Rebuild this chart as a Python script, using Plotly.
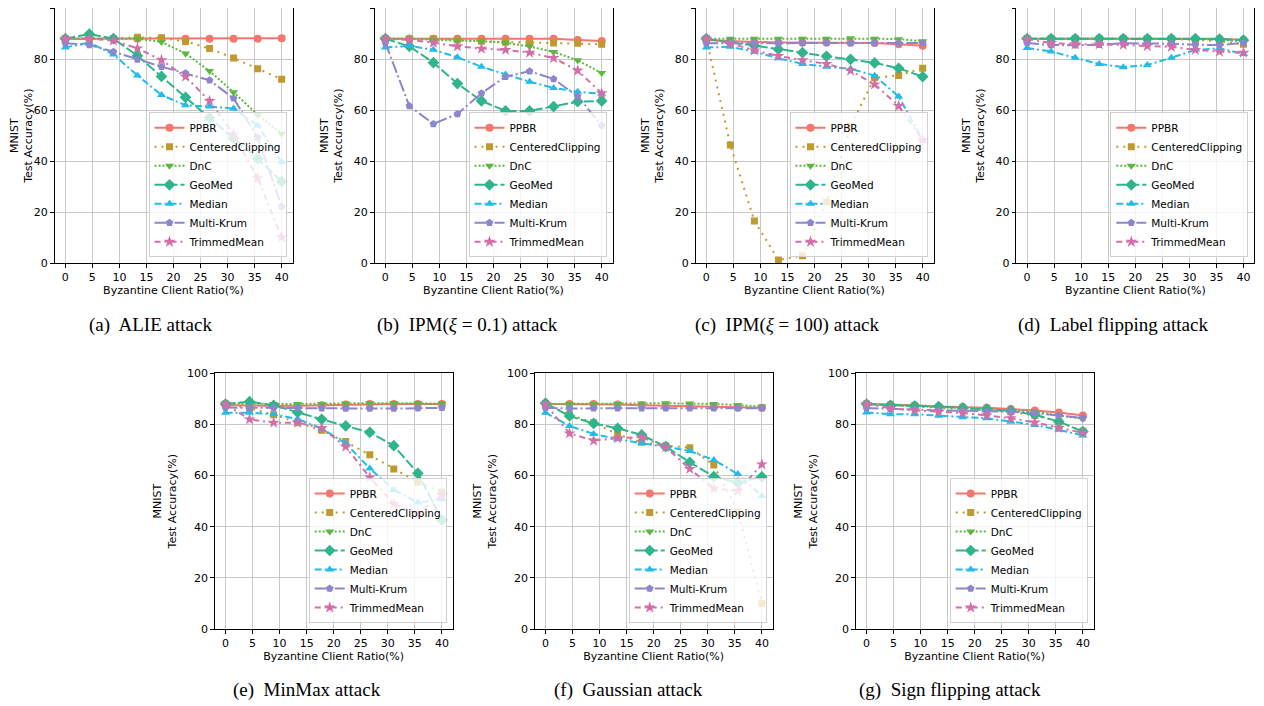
import plotly.graph_objects as go

# ---------------- data ----------------
X = [0, 4.44, 8.89, 13.33, 17.78, 22.22, 26.67, 31.11, 35.56, 40]
METHODS = ["PPBR", "CenteredClipping", "DnC", "GeoMed", "Median", "Multi-Krum", "TrimmedMean"]
X_TICKS = [0, 5, 10, 15, 20, 25, 30, 35, 40]
Y_TICKS = [0, 20, 40, 60, 80, 100]

ALIE = {
    "PPBR":             [88, 88, 88, 88, 88, 88, 88, 88, 88, 88.2],
    "CenteredClipping": [88, 88, 88, 88.5, 88.3, 86.9, 84.1, 80.4, 76.2, 72.1],
    "DnC":              [88, 88, 88, 88, 86.7, 82.2, 75.3, 67, 58.2, 50.7],
    "GeoMed":           [88, 89.8, 88, 81.3, 73.2, 65, 56.9, 49, 41, 32],
    "Median":           [84.5, 86.5, 81.8, 73.6, 65.9, 61.9, 61.4, 60.6, 54, 39.6],
    "Multi-Krum":       [86.2, 85.5, 82.9, 79.8, 77, 74.4, 71.7, 64.6, 49.3, 22.2],
    "TrimmedMean":      [88, 88, 87.2, 84.2, 79.6, 73.1, 63.6, 50.5, 33.3, 10.2],
}
IPM_01 = {
    "PPBR":             [88, 88, 88, 88, 88, 88, 88, 88, 87.5, 87.1],
    "CenteredClipping": [88, 88, 88, 87.5, 87, 86.6, 86.5, 86.3, 86.2, 85.8],
    "DnC":              [88, 88, 87.5, 87.3, 87, 86.4, 84.9, 82.8, 79.5, 74.5],
    "GeoMed":           [88, 85, 78.6, 70.4, 63.6, 59.7, 59.7, 61.4, 63.3, 63.6],
    "Median":           [84.5, 85.2, 83.6, 80.7, 77, 74, 71.1, 68.7, 67.2, 66.4],
    "Multi-Krum":       [86.4, 61.6, 54.6, 58.5, 66.6, 73.1, 75.2, 72.2, 65.4, 54],
    "TrimmedMean":      [88, 87.5, 86.4, 85, 84.1, 83.6, 82.5, 80.4, 75.5, 66.6],
}
IPM_100 = {
    "PPBR":             [87.5, 87, 86.7, 86.5, 86.5, 86.5, 86.5, 86.3, 85.8, 85.2],
    "CenteredClipping": [88, 46.3, 16.6, 1.3, 3, 24, 53.7, 72.7, 73.6, 76.4],
    "DnC":              [88, 88, 88, 88, 88, 88, 88.2, 88, 87.8, 87],
    "GeoMed":           [88, 86.5, 85.3, 83.8, 82.5, 81.1, 79.9, 78.5, 76.4, 73.1],
    "Median":           [84.5, 84.8, 82.9, 80.3, 78.1, 77, 76.2, 73.5, 65.3, 48.3],
    "Multi-Krum":       [86.2, 86.2, 86.2, 86.3, 86.3, 86.3, 86.2, 86.3, 86.2, 86.3],
    "TrimmedMean":      [88, 86.2, 83.4, 81.2, 79.6, 78.1, 75.5, 70.1, 61.6, 48.3],
}
LABEL_FLIP = {
    "PPBR":             [88, 88, 88, 88, 88, 88, 88, 88, 88, 87.6],
    "CenteredClipping": [88, 88, 88, 88, 88, 88, 88, 87.5, 87, 85.8],
    "DnC":              [88, 88, 88, 88, 88, 88, 88, 88, 87.5, 87],
    "GeoMed":           [88, 88, 88, 88, 88, 88, 88, 88, 87.8, 87.4],
    "Median":           [84.3, 83, 80.5, 78.1, 76.8, 77.7, 80.5, 83.6, 84.2, 82],
    "Multi-Krum":       [86.3, 85.5, 85.4, 85.6, 86.2, 86.1, 86, 85.6, 85.5, 86.3],
    "TrimmedMean":      [87.9, 86.2, 85.8, 85.8, 85.6, 85.1, 84.8, 83.6, 82.9, 82.5],
}
MINMAX = {
    "PPBR":             [87.6, 87.3, 87.2, 87.3, 87.5, 87.8, 88, 88, 88, 88],
    "CenteredClipping": [88, 86.3, 83.8, 80.7, 77.7, 73.3, 68.1, 62.6, 57.4, 53.5],
    "DnC":              [88.2, 88, 88, 88, 88, 88.2, 88.3, 88.3, 88.3, 88.2],
    "GeoMed":           [88, 88.9, 87.5, 84.7, 82, 79.4, 76.9, 71.7, 60.9, 42.6],
    "Median":           [84.6, 84.6, 84, 82.1, 78.4, 72.6, 62.8, 54.4, 49.5, 50.7],
    "Multi-Krum":       [86.6, 86.5, 86.5, 86.5, 86.3, 86.2, 86.2, 86.2, 86.3, 86.5],
    "TrimmedMean":      [87.9, 82, 80.7, 80.7, 78.6, 71.3, 59.3, 48.9, 45, 52.4],
}
GAUSSIAN = {
    "PPBR":             [88, 88, 88, 87.8, 87.5, 87.3, 87, 86.8, 86.6, 86.5],
    "CenteredClipping": [88, 83.8, 80.7, 76.1, 73, 71.7, 70.9, 64.1, 45.9, 10],
    "DnC":              [88, 88, 88, 88, 88.2, 88.3, 88.2, 88, 87.6, 87],
    "GeoMed":           [88.3, 83.3, 80.4, 78.5, 75.9, 71.3, 65.2, 59.6, 57.2, 59.5],
    "Median":           [84.6, 79.4, 76.3, 74.3, 72.6, 71.3, 69.6, 66.1, 60.6, 52],
    "Multi-Krum":       [86.5, 86.2, 86.3, 86.3, 86.3, 86.3, 86.3, 86.3, 86.3, 86.3],
    "TrimmedMean":      [87.9, 76.5, 73.7, 74.6, 75, 71.1, 62.6, 55, 54, 64.4],
}
SIGN_FLIP = {
    "PPBR":             [88, 87.8, 87.5, 87, 86.8, 86.5, 86, 85.5, 84.7, 83.5],
    "CenteredClipping": [88, 87.5, 87, 86.5, 86, 85.5, 85, 83.5, 81, 77.3],
    "DnC":              [88, 87.5, 87.3, 86.8, 86.3, 86, 85.5, 85, 83.5, 82.2],
    "GeoMed":           [88, 87.5, 87.2, 87, 86.5, 86, 85.3, 83.8, 81.1, 77.2],
    "Median":           [84.7, 84, 84, 83.4, 82.8, 82.4, 81.1, 79.8, 77.9, 75.7],
    "Multi-Krum":       [86.4, 86, 85.8, 85.5, 85.3, 85, 85, 84.5, 83.5, 82.5],
    "TrimmedMean":      [88, 86.3, 85.5, 85, 84.5, 83.5, 82.4, 80.8, 78.6, 76.7],
}

CAPTIONS = [
    "(a)  ALIE attack",
    "(b)  IPM(<i>ξ</i> = 0.1) attack",
    "(c)  IPM(<i>ξ</i> = 100) attack",
    "(d)  Label flipping attack",
    "(e)  MinMax attack",
    "(f)  Gaussian attack",
    "(g)  Sign flipping attack",
]
PANELS = [ALIE, IPM_01, IPM_100, LABEL_FLIP, MINMAX, GAUSSIAN, SIGN_FLIP]

# ---------------- styling ----------------
OFF = 8                      # browser default page margin
W, H = 1264 - OFF, 706 - OFF  # figure size so the page fits the window
COLORS = {
    "PPBR": "#f4766d",
    "CenteredClipping": "#c09a2e",
    "DnC": "#5cb83f",
    "GeoMed": "#2fb48c",
    "Median": "#22bbea",
    "Multi-Krum": "#8c86cc",
    "TrimmedMean": "#d26fa9",
}
DASHES = {
    "PPBR": "solid",
    "CenteredClipping": "2px,5px",
    "DnC": "2px,2px",
    "GeoMed": "10px,3px",
    "Median": "7px,3px,2px,3px",
    "Multi-Krum": "12px,3px,2px,3px",
    "TrimmedMean": "6px,4px,2px,4px",
}
SYMBOLS = {
    "PPBR": ("circle", 8),
    "CenteredClipping": ("square", 7),
    "DnC": ("triangle-down", 8),
    "GeoMed": ("diamond", 9),
    "Median": ("triangle-up", 8),
    "Multi-Krum": ("pentagon", 8),
    "TrimmedMean": ("star", 9),
}

# pixel boxes in the window (left, top, right, bottom)
BOXES = [
    (54.5, 8, 292.5, 263.3),
    (374.5, 8, 612.5, 263.3),
    (695.5, 8, 933.5, 263.3),
    (1016.3, 8, 1254.3, 263.3),
    (214.7, 373.3, 452.7, 629),
    (534.7, 373.3, 772.7, 629),
    (855.7, 373.3, 1093.7, 629),
]
CAPTION_POS = [(150, 325), (467, 325), (787, 325), (1113, 325),
               (307, 690), (628, 690), (950, 690)]


def px(v):
    return (v - OFF) / W


def py(v):
    return 1 - (v - OFF) / H


TICK_FONT = dict(family="DejaVu Sans", size=11, color="black")
fig = go.Figure()
layout = dict(
    width=W, height=H, autosize=False,
    margin=dict(l=0, r=0, t=0, b=0),
    paper_bgcolor="white", plot_bgcolor="white",
    font=dict(family="DejaVu Sans", size=11, color="black"),
    annotations=[],
)

for i, (panel, box) in enumerate(zip(PANELS, BOXES)):
    n = "" if i == 0 else str(i + 1)
    l, t, r, b = box
    xa = dict(
        domain=[px(l), px(r)], range=[-2, 42], anchor="y" + n,
        tickvals=X_TICKS, ticks="outside", ticklen=3.5, tickcolor="black",
        showline=True, linecolor="black", linewidth=1, mirror=True,
        showgrid=True, gridcolor="#c8c8c8", gridwidth=1, zeroline=False,
        tickfont=TICK_FONT, automargin=False,
        title=dict(text="Byzantine Client Ratio(%)", font=TICK_FONT, standoff=2),
    )
    ya = dict(
        domain=[py(b), py(t)], range=[0, 100], anchor="x" + n,
        tickvals=Y_TICKS, ticks="outside", ticklen=3.5, tickcolor="black",
        showline=True, linecolor="black", linewidth=1, mirror=True,
        showgrid=True, gridcolor="#c8c8c8", gridwidth=1, zeroline=False,
        tickfont=TICK_FONT, automargin=False,
        title=dict(text="MNIST<br>Test Accuracy(%)", font=TICK_FONT, standoff=8),
    )
    layout["xaxis" + n] = xa
    layout["yaxis" + n] = ya
    leg = "legend" + n
    layout[leg] = dict(
        x=px(r - 6), y=py(b - 6), xanchor="right", yanchor="bottom",
        xref="paper", yref="paper",
        bgcolor="rgba(255,255,255,0.8)", bordercolor="#d0d0d0", borderwidth=1,
        font=dict(family="DejaVu Sans", size=10.5, color="black"),
        tracegroupgap=0, itemwidth=30,
    )
    for m in METHODS:
        sym, sz = SYMBOLS[m]
        fig.add_trace(go.Scatter(
            x=X, y=panel[m], name=m, mode="lines+markers",
            xaxis="x" + n, yaxis="y" + n, legend=leg,
            line=dict(color=COLORS[m], width=2, dash=DASHES[m]),
            marker=dict(symbol=sym, size=sz, color=COLORS[m], line=dict(width=0)),
        ))
    cx, cy = CAPTION_POS[i]
    layout["annotations"].append(dict(
        text=CAPTIONS[i], x=px(cx), y=py(cy), xref="paper", yref="paper",
        showarrow=False, xanchor="center", yanchor="middle",
        font=dict(family="Liberation Serif", size=19, color="black"),
    ))

fig.update_layout(**layout)
fig.write_html("out.html")
